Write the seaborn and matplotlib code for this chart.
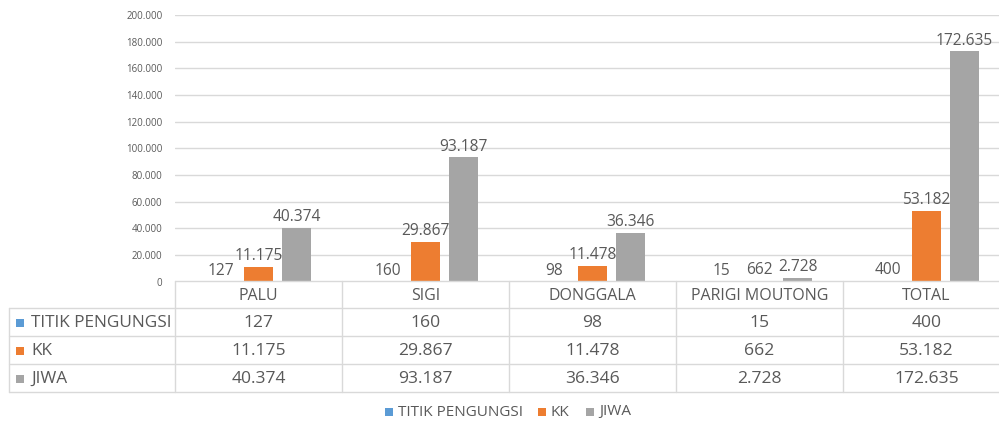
import matplotlib
matplotlib.use("Agg")
import matplotlib.pyplot as plt
import seaborn as sns
import pandas as pd
from matplotlib.patches import Rectangle
from matplotlib.lines import Line2D

regions = ["PALU", "SIGI", "DONGGALA", "PARIGI MOUTONG", "TOTAL"]
series = ["TITIK PENGUNGSI", "KK", "JIWA"]
titik = [127, 160, 98, 15, 400]
kk = [11175, 29867, 11478, 662, 53182]
jiwa = [40374, 93187, 36346, 2728, 172635]
yticks = [0, 20000, 40000, 60000, 80000, 100000, 120000, 140000, 160000, 180000, 200000]
colors = ["#5B9BD5", "#ED7D31", "#A5A5A5"]

values = {"TITIK PENGUNGSI": titik, "KK": kk, "JIWA": jiwa}
rows = []
for s in series:
    for r, v in zip(regions, values[s]):
        rows.append({"region": r, "series": s, "value": v})
df = pd.DataFrame(rows)

def fmt(v):
    return f"{v:,}".replace(",", ".")

sns.set_theme(style="white")
plt.rcParams["font.family"] = ["Open Sans", "DejaVu Sans"]
TXT = "#595959"

W, H = 999, 421
fig = plt.figure(figsize=(W / 100, H / 100), dpi=100)
fig.patch.set_facecolor("white")

left, right, top, base = 175, 999, 15, 281.5
cw = 167.0
ax = fig.add_axes([left / W, (H - base) / H, (right - left) / W, (base - top) / H])

sns.barplot(data=df, x="region", y="value", hue="series", order=regions,
            hue_order=series, palette=colors, width=0.684, gap=0.24,
            ax=ax, legend=False, saturation=1, linewidth=0)

for cont, s in zip(ax.containers, series):
    ax.bar_label(cont, labels=[fmt(v) for v in values[s]], padding=2,
                 fontsize=11.2, color=TXT)

ax.set_xlim(-0.5, -0.5 + (right - left) / cw)
ax.set_ylim(0, 200000)
ax.set_yticks(yticks)
ax.set_yticklabels([fmt(v) for v in yticks], fontsize=7, color=TXT)
ax.tick_params(axis="y", length=0, pad=9)
ax.set_xticks([])
ax.set_xlabel("")
ax.set_ylabel("")
ax.grid(axis="y", color="#D9D9D9", linewidth=1)
ax.set_axisbelow(True)
for sp in ax.spines.values():
    sp.set_visible(False)

# overlay for data table and legend (pixel coordinates)
ov = fig.add_axes([0, 0, 1, 1])
ov.set_xlim(0, W)
ov.set_ylim(H, 0)
ov.axis("off")
ov.patch.set_alpha(0)

lc = "#D9D9D9"
rows_y = [281, 308, 336, 364, 392]
tab_left = 9
ov.add_line(Line2D([left, W], [rows_y[0]] * 2, color=lc, lw=1))
for y in rows_y[1:]:
    ov.add_line(Line2D([tab_left, W], [y, y], color=lc, lw=1))
ov.add_line(Line2D([tab_left, tab_left], [rows_y[1], rows_y[-1]], color=lc, lw=1))
for i in range(5):
    x = left + cw * i
    ov.add_line(Line2D([x, x], [rows_y[0], rows_y[-1]], color=lc, lw=1))

# header
for i, r in enumerate(regions):
    ov.text(left + cw * (i + 0.5), (rows_y[0] + rows_y[1]) / 2 + 1, r,
            ha="center", va="center", fontsize=11.5, color=TXT)
# rows
for j, s in enumerate(series):
    yc = (rows_y[j + 1] + rows_y[j + 2]) / 2 + 1
    ov.add_patch(Rectangle((16, yc - 4), 8, 8, color=colors[j], lw=0))
    ov.text(31, yc, s, ha="left", va="center", fontsize=12.4, color=TXT)
    for i, v in enumerate(values[s]):
        ov.text(left + cw * (i + 0.5), yc, fmt(v), ha="center", va="center",
                fontsize=12.6, color=TXT)

# legend
leg_y = 412
leg_x = [385, 538, 586]
for j, s in enumerate(series):
    ov.add_patch(Rectangle((leg_x[j], leg_y - 4), 8, 8, color=colors[j], lw=0))
    ov.text(leg_x[j] + 13, leg_y, s, ha="left", va="center", fontsize=11, color=TXT)

fig.savefig("out.png", dpi=100)
